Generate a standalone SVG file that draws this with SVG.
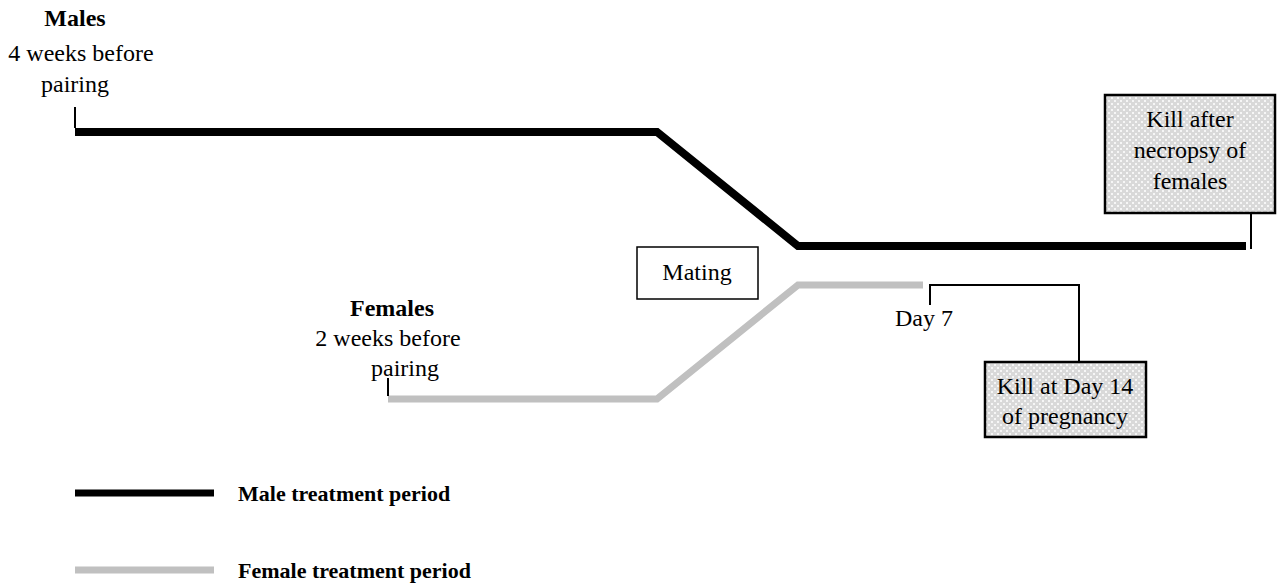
<svg xmlns="http://www.w3.org/2000/svg" width="1277" height="587" viewBox="0 0 1277 587">
<defs>
<pattern id="dots" width="6" height="6" patternUnits="userSpaceOnUse">
<rect width="6" height="6" fill="#d9d9d9"/>
<rect x="1" y="1" width="2" height="2" fill="#f6f6f6"/>
<rect x="4" y="4" width="2" height="2" fill="#f6f6f6"/>
</pattern>
<style>
text{font-family:"Liberation Serif","Times New Roman",serif;font-size:24px;fill:#000}
.b{font-weight:bold}
.m{text-anchor:middle}
.lg{font-size:22px}
.male{fill:none;stroke:#000;stroke-width:8;stroke-linejoin:miter}
.fem{fill:none;stroke:#c0c0c0;stroke-width:7}
.thin{fill:none;stroke:#000;stroke-width:2}
.box{fill:#fff;stroke:#000;stroke-width:1.5}
.dbox{fill:url(#dots);stroke:#000;stroke-width:2.5}
</style>
</defs>
<rect width="1277" height="587" fill="#fff"/>
<g id="connectors">
<polyline class="male" points="75,132 657,132 798,246 1246,246"/>
<polyline class="fem" points="388,399 657,399 798,285 923,285"/>
<line class="thin" x1="75" y1="107" x2="75" y2="128"/>
<line class="thin" x1="388" y1="378" x2="388" y2="396"/>
<line class="thin" x1="1251" y1="213" x2="1251" y2="249"/>
<polyline class="thin" points="930,305 930,285 1079,285 1079,362"/>
</g>
<g id="males">
<text class="b m" x="75" y="26">Males</text>
<text class="m" x="81" y="61">4 weeks before</text>
<text class="m" x="75" y="92">pairing</text>
</g>
<g id="females">
<text class="b m" x="392" y="316">Females</text>
<text class="m" x="388" y="346">2 weeks before</text>
<text class="m" x="405" y="376">pairing</text>
</g>
<g id="mating">
<rect class="box" x="637" y="247" width="121" height="52"/>
<text class="m" x="697" y="280">Mating</text>
</g>
<g id="day7">
<text class="m" x="924" y="326">Day 7</text>
</g>
<g id="kill-males">
<rect class="dbox" x="1105" y="95" width="170" height="118"/>
<text class="m" x="1190" y="127">Kill after</text>
<text class="m" x="1190" y="158">necropsy of</text>
<text class="m" x="1190" y="189">females</text>
</g>
<g id="kill-females">
<rect class="dbox" x="985" y="362" width="161" height="75"/>
<text class="m" x="1065" y="394">Kill at Day 14</text>
<text class="m" x="1065" y="424">of pregnancy</text>
</g>
<g id="legend">
<line x1="75" y1="493" x2="214" y2="493" stroke="#000" stroke-width="7"/>
<text class="b lg" x="238" y="501">Male treatment period</text>
<line x1="75" y1="570" x2="214" y2="570" stroke="#c0c0c0" stroke-width="7"/>
<text class="b lg" x="238" y="578">Female treatment period</text>
</g>
</svg>
